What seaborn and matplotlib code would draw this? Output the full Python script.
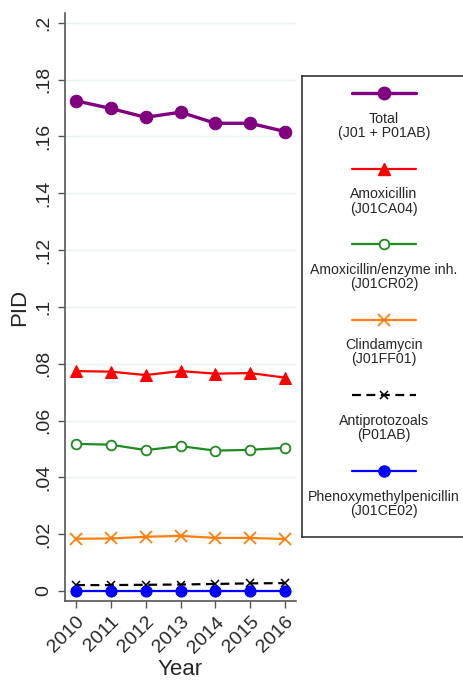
import matplotlib
matplotlib.use("Agg")
import matplotlib.pyplot as plt
import seaborn as sns

years = [2010, 2011, 2012, 2013, 2014, 2015, 2016]

total = [0.1725, 0.1698, 0.1667, 0.1685, 0.1646, 0.1646, 0.1617]
amoxicillin = [0.0774, 0.0772, 0.0760, 0.0774, 0.0765, 0.0767, 0.0751]
amox_enzyme = [0.0518, 0.0515, 0.0496, 0.0510, 0.0494, 0.0497, 0.0504]
clindamycin = [0.0184, 0.0185, 0.0191, 0.0194, 0.0187, 0.0187, 0.0183]
antiprotozoals = [0.0021, 0.0021, 0.0022, 0.0023, 0.0025, 0.0027, 0.0028]
phenoxy = [0.0001, 0.0001, 0.0001, 0.0001, 0.0001, 0.0001, 0.0001]

labels = ["Total\n(J01 + P01AB)", "Amoxicillin\n(J01CA04)",
          "Amoxicillin/enzyme inh.\n(J01CR02)", "Clindamycin\n(J01FF01)",
          "Antiprotozoals\n(P01AB)", "Phenoxymethylpenicillin\n(J01CE02)"]
yticks = [0, 0.02, 0.04, 0.06, 0.08, 0.1, 0.12, 0.14, 0.16, 0.18, 0.2]
ytick_labels = ["0", ".02", ".04", ".06", ".08", ".1", ".12", ".14", ".16", ".18", ".2"]

sns.set_style("white")
plt.rcParams["font.family"] = ["Liberation Sans", "DejaVu Sans"]

# styles per series
styles = [
    dict(color="#800080", marker="o", markersize=9, linewidth=2.4, linestyle="-",
         markerfacecolor="#800080", markeredgecolor="#800080"),
    dict(color="#FF0000", marker="^", markersize=8, linewidth=1.6, linestyle="-",
         markerfacecolor="#FF0000", markeredgecolor="#FF0000"),
    dict(color="#1E8C1E", marker="o", markersize=7, linewidth=1.6, linestyle="-",
         markerfacecolor="white", markeredgecolor="#1E8C1E", markeredgewidth=1.3),
    dict(color="#FF7F0E", marker="x", markersize=8, linewidth=1.6, linestyle="-",
         markeredgecolor="#FF7F0E", markeredgewidth=1.3),
    dict(color="black", marker="x", markersize=6, linewidth=1.6, linestyle=(0, (4, 2.5)),
         markeredgecolor="black", markeredgewidth=1.1),
    dict(color="#0000FF", marker="o", markersize=8, linewidth=1.6, linestyle="-",
         markerfacecolor="#0000FF", markeredgecolor="#0000FF"),
]
series = [total, amoxicillin, amox_enzyme, clindamycin, antiprotozoals, phenoxy]

W, H = 463, 682
fig = plt.figure(figsize=(W / 100, H / 100), dpi=100)
ax = fig.add_axes([65 / W, (H - 601) / H, (296 - 65) / W, (601 - 13) / H])

for vals, st in zip(series, styles):
    sns.lineplot(x=years, y=vals, ax=ax, **st)

ax.set_xlim(2009.684, 2016.316)
ax.set_ylim(-0.0035, 0.2034)
ax.set_yticks(yticks)
ax.set_yticklabels(ytick_labels, rotation=90, va="center", fontsize=14)
ax.set_xticks(years)
ax.set_xticklabels([str(y) for y in years], rotation=45, ha="right",
                   rotation_mode="anchor", fontsize=14)
ax.tick_params(axis="both", direction="out", length=5, width=1, color="#555555",
               left=True, bottom=True, pad=4)
ax.grid(axis="y", color="#EAF2F3", linewidth=1)
ax.set_axisbelow(True)
for s in ["top", "right"]:
    ax.spines[s].set_visible(False)
for s in ["left", "bottom"]:
    ax.spines[s].set_color("#555555")
    ax.spines[s].set_linewidth(1.2)
ax.set_xlabel("Year", fontsize=16, labelpad=2)
ax.set_ylabel("PID", fontsize=16, labelpad=4)

# legend panel (runs off the right edge): sample above, label centred below
lax = fig.add_axes([302 / W, (H - 537) / H, (500 - 302) / W, (537 - 76) / H])
lax.set_xlim(302, 500)
lax.set_ylim(537, 76)
lax.set_xticks([])
lax.set_yticks([])
for s in lax.spines.values():
    s.set_color("#333333")
    s.set_linewidth(1.2)
lax.spines["right"].set_visible(False)
for i, (lab, st) in enumerate(zip(labels, styles)):
    y0 = 93 + i * 75.5
    lax.plot([352, 416], [y0, y0], color=st["color"], linewidth=st["linewidth"],
             linestyle=st["linestyle"])
    mk = {k: v for k, v in st.items() if k.startswith("marker")}
    lax.plot([384], [y0], linestyle="none", **mk)
    lax.text(384, y0 + 33, lab, ha="center", va="center", fontsize=10.2,
             linespacing=1.0)

fig.savefig("out.png", dpi=100)
